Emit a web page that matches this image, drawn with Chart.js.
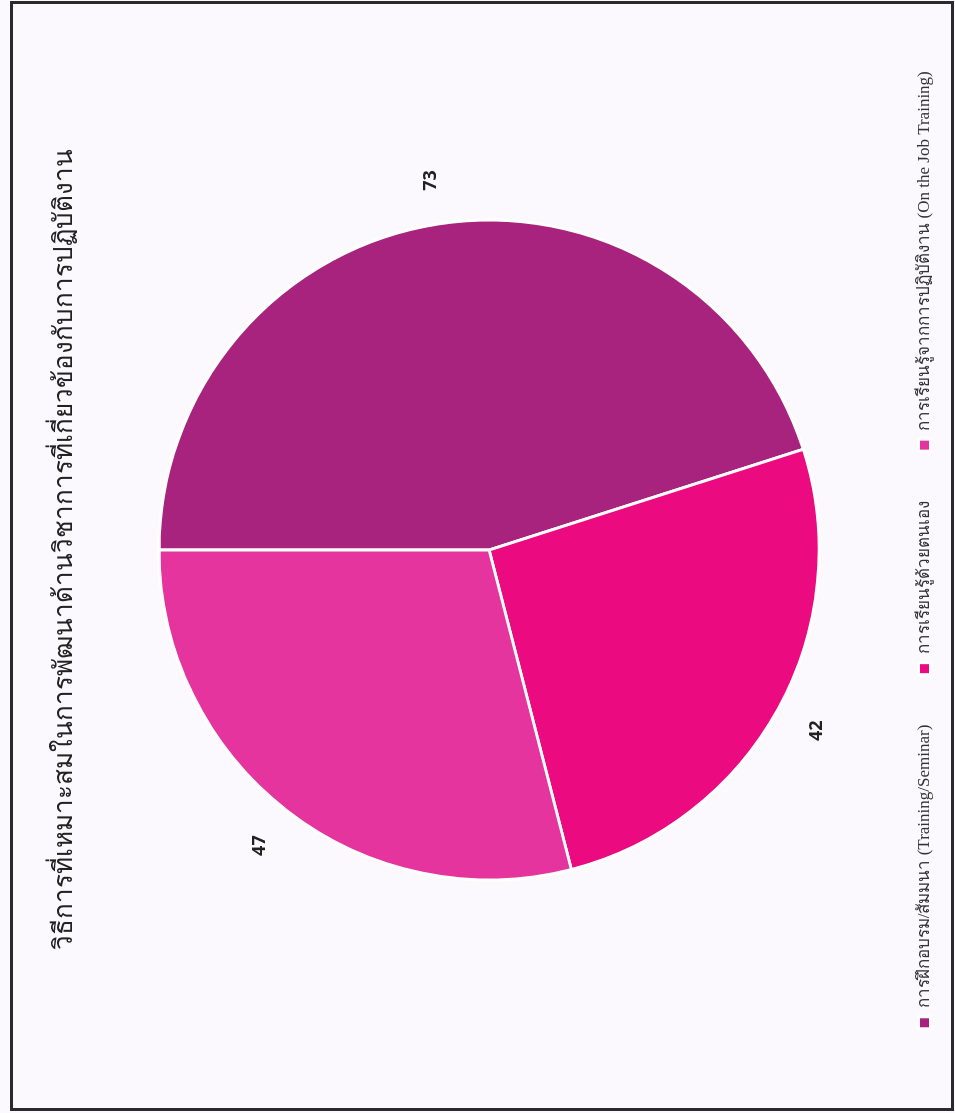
<!DOCTYPE html>
<html>
<head>
<meta charset="utf-8">
<script src="https://cdn.jsdelivr.net/npm/chart.js@4.4.1/dist/chart.umd.min.js"></script>
<style>
  html, body { margin: 0; padding: 0; background: #fbf9fd; }
  body { width: 955px; height: 1113px; position: relative; overflow: hidden; }
  #frame { position: absolute; left: 10px; top: 1px; width: 938px; height: 1104px; border: 3px solid #2a2a2a; box-sizing: content-box; }
  #rot { position: absolute; left: 0; top: 0; width: 1113px; height: 955px;
         transform-origin: 0 0; transform: translate(0px, 1113px) rotate(-90deg); }
  #rot canvas { display: block; }
</style>
</head>
<body>
<div id="frame"></div>
<div id="rot"><canvas id="c" width="1113" height="955"></canvas></div>
<script>
const titleText = 'วิธีการที่เหมาะสมในการพัฒนาด้านวิชาการที่เกี่ยวข้องกับการปฏิบัติงาน';
const categories = [
  'การฝึกอบรม/สัมมนา (Training/Seminar)',
  'การเรียนรู้ด้วยตนเอง',
  'การเรียนรู้จากการปฏิบัติงาน (On the Job Training)'
];
const values = [73, 42, 47];
const colors = ['#a8237e', '#ec0a80', '#e5349d'];

const valueLabels = {
  id: 'valueLabels',
  afterDatasetsDraw(chart) {
    const ctx = chart.ctx;
    const meta = chart.getDatasetMeta(0);
    ctx.save();
    ctx.font = 'bold 18px "Open Sans", "Liberation Sans", sans-serif';
    ctx.fillStyle = '#222';
    ctx.textAlign = 'center';
    ctx.textBaseline = 'middle';
    meta.data.forEach((arc, i) => {
      const p = arc.getProps(['x', 'y', 'startAngle', 'endAngle', 'outerRadius'], true);
      const mid = (p.startAngle + p.endAngle) / 2;
      const r = p.outerRadius + 44;
      ctx.fillText(String(values[i]), p.x + Math.cos(mid) * r, p.y + Math.sin(mid) * r);
    });
    ctx.restore();
  }
};

new Chart(document.getElementById('c'), {
  type: 'pie',
  data: {
    labels: categories,
    datasets: [{
      data: values,
      backgroundColor: colors,
      borderColor: '#ffffff',
      borderWidth: 3,
      radius: 330
    }]
  },
  options: {
    responsive: false,
    animation: false,
    layout: { padding: { left: 13, right: 0, top: 0, bottom: 12 } },
    plugins: {
      title: {
        display: true,
        text: titleText,
        color: '#222',
        font: { family: '"Liberation Serif", "DejaVu Serif", serif', size: 26, weight: 'normal' },
        padding: { top: 50, bottom: 31 }
      },
      legend: {
        display: true,
        position: 'bottom',
        labels: {
          color: '#333',
          boxWidth: 12,
          boxHeight: 12,
          padding: 50,
          font: { family: '"Liberation Serif", "DejaVu Serif", serif', size: 17 }
        }
      },
      tooltip: { enabled: false }
    }
  },
  plugins: [valueLabels]
});
</script>
</body>
</html>
